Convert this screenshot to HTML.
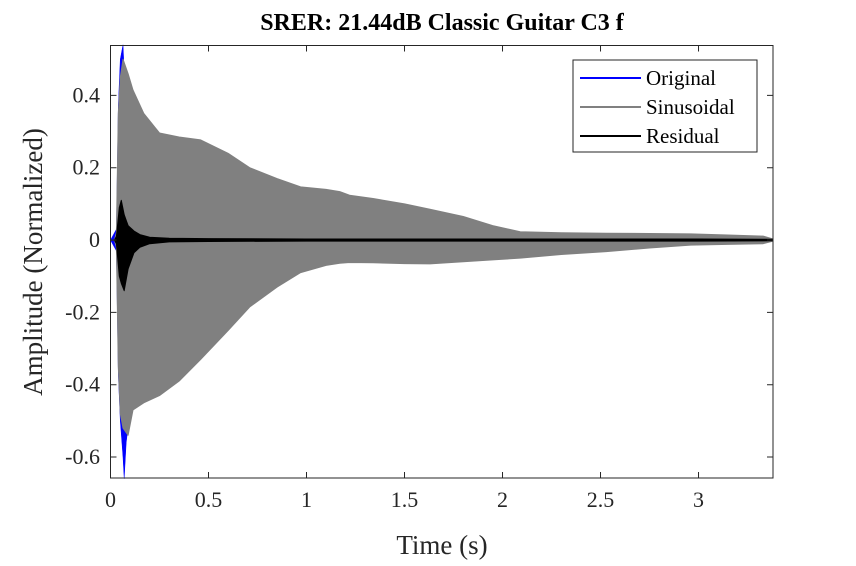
<!DOCTYPE html>
<html><head><meta charset="utf-8"><style>
body{margin:0;background:#fff}
svg text{font-family:"Liberation Serif",serif;fill:#262626}
</style></head><body>
<svg id="chart" width="856" height="561" viewBox="0 0 856 561" xmlns="http://www.w3.org/2000/svg">
<rect width="856" height="561" fill="#fff"/>
<text x="442" y="30" text-anchor="middle" font-size="24" font-weight="bold" style="fill:#000">SRER: 21.44dB Classic Guitar C3 f</text>
<g id="marks"></g>
<rect x="110.5" y="45.5" width="662.5" height="432.5" fill="none" stroke="#262626" stroke-width="1"/>
<g id="axes"></g>
<text x="442" y="554" text-anchor="middle" font-size="27">Time (s)</text>
<text transform="translate(42,262) rotate(-90)" text-anchor="middle" font-size="27">Amplitude (Normalized)</text>
<g>
<rect x="573" y="60" width="184" height="92" fill="#fff" stroke="#262626" stroke-width="1"/>
<line x1="580" y1="78" x2="641" y2="78" stroke="#0000ff" stroke-width="2"/>
<text x="646" y="85" font-size="21" style="fill:#000">Original</text>
<line x1="580" y1="107" x2="641" y2="107" stroke="#808080" stroke-width="2"/>
<text x="646" y="114" font-size="21" style="fill:#000">Sinusoidal</text>
<line x1="580" y1="136" x2="641" y2="136" stroke="#000" stroke-width="2"/>
<text x="646" y="143" font-size="21" style="fill:#000">Residual</text>
</g>
</svg>
<script>
const envTimes=[0,0.02,0.03,0.04,0.05,0.064,0.09,0.115,0.17,0.25,0.35,0.46,0.6,0.71,0.85,0.97,1.1,1.17,1.22,1.34,1.5,1.63,1.8,1.95,2.09,2.3,2.53,2.75,2.96,3.15,3.33,3.38];
const sinUpper=[0,0,0.02,0.35,0.45,0.50,0.46,0.415,0.35,0.296,0.285,0.277,0.24,0.20,0.17,0.147,0.14,0.134,0.124,0.115,0.10,0.085,0.065,0.04,0.023,0.02,0.019,0.018,0.017,0.014,0.011,0.003];
const sinLower=[0,0,-0.02,-0.35,-0.48,-0.52,-0.54,-0.47,-0.45,-0.43,-0.39,-0.33,-0.25,-0.185,-0.13,-0.09,-0.07,-0.064,-0.062,-0.063,-0.065,-0.066,-0.06,-0.055,-0.05,-0.04,-0.032,-0.022,-0.014,-0.012,-0.01,-0.003];
const origTimes=[0,0.03,0.04,0.05,0.064,0.07,0.08,0.1,0.12];
const origUpper=[0,0.03,0.37,0.50,0.54,0.47,0.44,0.40,0.38];
const origLower=[0,-0.03,-0.37,-0.50,-0.60,-0.66,-0.56,-0.47,-0.46];
const resTimes=[0,0.02,0.03,0.045,0.055,0.07,0.09,0.12,0.15,0.2,0.3,0.5,1.0,2.0,3.0,3.38];
const resUpper=[0,0,0.01,0.09,0.11,0.07,0.04,0.025,0.015,0.008,0.005,0.004,0.003,0.003,0.003,0.002];
const resLower=[0,0,-0.01,-0.10,-0.12,-0.14,-0.08,-0.035,-0.02,-0.01,-0.005,-0.004,-0.003,-0.003,-0.003,-0.002];
const xTicks=[0,0.5,1,1.5,2,2.5,3];
const xTickLabels=["0","0.5","1","1.5","2","2.5","3"];
const yTicks=[-0.6,-0.4,-0.2,0,0.2,0.4];
const yTickLabels=["-0.6","-0.4","-0.2","0","0.2","0.4"];

const X0=110.5,X1=773,Y0=478,Y1=45.5,XMIN=0,XMAX=3.38,YMIN=-0.658,YMAX=0.538;
const xs=t=>X0+(t-XMIN)/(XMAX-XMIN)*(X1-X0);
const ys=v=>Y0-(v-YMIN)/(YMAX-YMIN)*(Y0-Y1);
const NS="http://www.w3.org/2000/svg";
const marks=document.getElementById('marks'),axes=document.getElementById('axes');
function band(t,up,lo,fill,sw){
  let pts=t.map((v,i)=>xs(v).toFixed(1)+','+ys(up[i]).toFixed(1));
  for(let i=t.length-1;i>=0;i--)pts.push(xs(t[i]).toFixed(1)+','+ys(lo[i]).toFixed(1));
  const p=document.createElementNS(NS,'polygon');
  p.setAttribute('points',pts.join(' '));p.setAttribute('fill',fill);p.setAttribute('stroke',fill);p.setAttribute('stroke-width',sw);p.setAttribute('stroke-linejoin','round');
  marks.appendChild(p);return p;
}
let o=band(origTimes,origUpper,origLower,'#0000ff','0.5');


let s=band(envTimes,sinUpper,sinLower,'#808080','1');


let r=band(resTimes,resUpper,resLower,'#000000','1');


xTicks.forEach((t,i)=>{
  const x=xs(t);
  const l=document.createElementNS(NS,'path');
  l.setAttribute('d',`M${x},${Y0}v-6M${x},${Y1}v6`);l.setAttribute('stroke','#262626');
  
  
  axes.appendChild(l);
  const tx=document.createElementNS(NS,'text');
  tx.setAttribute('x',x);tx.setAttribute('y',507);tx.setAttribute('text-anchor','middle');tx.setAttribute('font-size','22');
  tx.textContent=xTickLabels[i];
  
  
  axes.appendChild(tx);
});
yTicks.forEach((v,i)=>{
  const y=ys(v);
  const l=document.createElementNS(NS,'path');
  l.setAttribute('d',`M${X0},${y}h6M${X1},${y}h-6`);l.setAttribute('stroke','#262626');
  
  
  axes.appendChild(l);
  const tx=document.createElementNS(NS,'text');
  tx.setAttribute('x',100);tx.setAttribute('y',y+7);tx.setAttribute('text-anchor','end');tx.setAttribute('font-size','22');
  tx.textContent=yTickLabels[i];
  
  
  axes.appendChild(tx);
});
</script>
</body></html>
